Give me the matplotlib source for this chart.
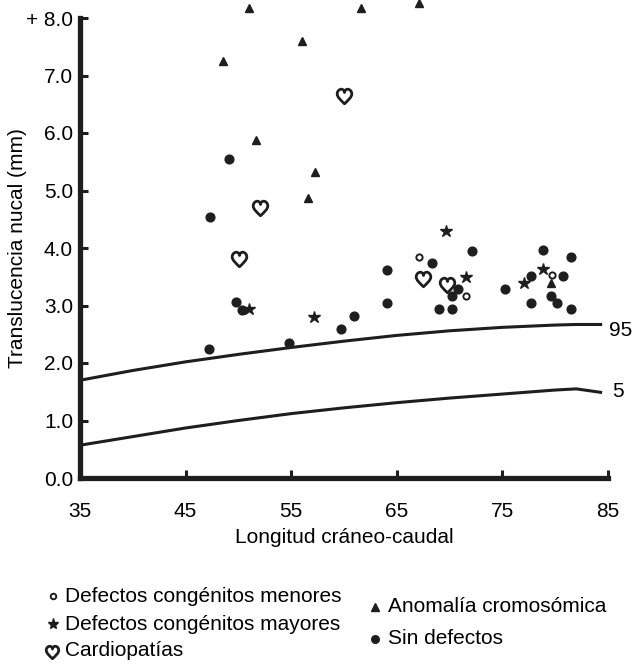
import matplotlib
matplotlib.use("Agg")
import matplotlib.pyplot as plt
from matplotlib.path import Path

plt.rcParams['font.family'] = ['Liberation Sans', 'DejaVu Sans']

# percentile curves (CRL mm, NT mm)
curve_x = [35, 40, 45, 50, 55, 60, 65, 70, 75, 80, 82, 84.3]
p95_y = [1.70, 1.87, 2.02, 2.15, 2.27, 2.38, 2.48, 2.56, 2.62, 2.66, 2.67, 2.67]
p5_y = [0.57, 0.72, 0.87, 1.00, 1.12, 1.22, 1.31, 1.39, 1.46, 1.53, 1.55, 1.49]

# Anomalia cromosomica
tri_x = [51.0, 61.6, 67.1, 56.0, 48.5, 51.7, 57.3, 56.6, 79.6]
tri_y = [8.17, 8.17, 8.26, 7.60, 7.25, 5.88, 5.32, 4.87, 3.39]

# Cardiopatias
heart_x = [60.0, 52.0, 50.1, 67.5, 69.8]
heart_y = [6.64, 4.70, 3.81, 3.46, 3.36]

# Defectos congenitos menores
minor_x = [67.1, 71.6, 79.7]
minor_y = [3.84, 3.17, 3.53]

# Defectos congenitos mayores
major_x = [51.0, 57.2, 69.7, 71.6, 77.0, 78.8]
major_y = [2.94, 2.80, 4.30, 3.50, 3.39, 3.63]

# Sin defectos
dot_x = [49.1, 47.3, 47.2, 54.8, 49.8, 50.3, 59.7, 60.9, 64.1, 64.1, 68.3, 72.1,
         70.8, 70.2, 69.0, 70.2, 75.2, 78.8, 81.5, 77.7, 80.7, 77.7, 79.6, 80.2, 81.5]
dot_y = [5.55, 4.54, 2.24, 2.35, 3.06, 2.92, 2.59, 2.82, 3.62, 3.04, 3.74, 3.95,
         3.29, 3.17, 2.94, 2.94, 3.29, 3.97, 3.85, 3.51, 3.51, 3.04, 3.17, 3.04, 2.94]

x_ticks = [35, 45, 55, 65, 75, 85]
y_ticks = [0, 1, 2, 3, 4, 5, 6, 7, 8]
y_labels = ['0.0', '1.0', '2.0', '3.0', '4.0', '5.0', '6.0', '7.0', '+ 8.0']

ink = '#1e1e1e'
fs = 15

# open heart marker built from bezier curves
heart_verts = [(0, -1),
               (-0.5, -0.5), (-1.0, -0.1), (-1.0, 0.35),
               (-1.0, 0.8), (-0.65, 1.0), (-0.45, 1.0),
               (-0.2, 1.0), (0, 0.8), (0, 0.55),
               (0, 0.8), (0.2, 1.0), (0.45, 1.0),
               (0.65, 1.0), (1.0, 0.8), (1.0, 0.35),
               (1.0, -0.1), (0.5, -0.5), (0, -1),
               (0, -1)]
heart_codes = [Path.MOVETO] + [Path.CURVE4] * 18 + [Path.CLOSEPOLY]
heart = Path(heart_verts, heart_codes)

fig = plt.figure(figsize=(6.33, 6.64), dpi=100)
ax = fig.add_axes([80 / 633, 1 - 478 / 664, 528 / 633, 460 / 664])

ax.plot(curve_x, p95_y, color=ink, lw=2.2)
ax.plot(curve_x, p5_y, color=ink, lw=2.2)
ax.text(85.1, 2.56, '95', fontsize=fs, va='center', ha='left')
ax.text(85.4, 1.51, '5', fontsize=fs, va='center', ha='left')

ax.plot(dot_x, dot_y, 'o', ms=6.3, color=ink, clip_on=False)
ax.plot(tri_x, tri_y, '^', ms=6.0, color=ink, clip_on=False)
ax.plot(major_x, major_y, '*', ms=9, color=ink, clip_on=False)
ax.plot(minor_x, minor_y, 'o', ms=4.5, mfc='white', mec=ink, mew=1.4, clip_on=False)
ax.plot(heart_x, heart_y, marker=heart, ls='none', ms=10.5, mfc='white', mec=ink,
        mew=2, clip_on=False)

ax.set_xlim(35, 85)
ax.set_ylim(0, 8)
ax.set_xticks(x_ticks)
ax.set_yticks(y_ticks)
ax.set_yticklabels(y_labels)
for s in ['top', 'right']:
    ax.spines[s].set_visible(False)
for s in ['left', 'bottom']:
    ax.spines[s].set_linewidth(3.8)
    ax.spines[s].set_color(ink)
    ax.spines[s].set_capstyle('projecting')
ax.tick_params(direction='in', length=6, width=2.2, color=ink, labelsize=fs, pad=5)
ax.tick_params(axis='x', pad=17)
ax.set_xlabel('Longitud cráneo-caudal', fontsize=fs)
ax.set_ylabel('Translucencia nucal (mm)', fontsize=fs)
ax.xaxis.set_label_coords(0.5, -0.108)
ax.yaxis.set_label_coords(-0.1, 0.5)

# legend drawn in pixel space
lg = fig.add_axes([0, 0, 1, 1], zorder=-1)
lg.set_xlim(0, 633)
lg.set_ylim(664, 0)
lg.axis('off')
lg.plot([53], [596], 'o', ms=4, mfc='white', mec=ink, mew=1.4)
lg.plot([53], [624], '*', ms=8, color=ink)
lg.plot([52], [652], marker=heart, ms=9, mfc='white', mec=ink, mew=2)
lg.plot([375], [607], '^', ms=5.5, color=ink)
lg.plot([375], [639], 'o', ms=5.5, color=ink)
lg.text(65, 596, 'Defectos congénitos menores', fontsize=fs, va='center')
lg.text(65, 624, 'Defectos congénitos mayores', fontsize=fs, va='center')
lg.text(65, 651, 'Cardiopatías', fontsize=fs, va='center')
lg.text(388, 607, 'Anomalía cromosómica', fontsize=fs, va='center')
lg.text(388, 638, 'Sin defectos', fontsize=fs, va='center')

fig.savefig('out.png', dpi=100)
